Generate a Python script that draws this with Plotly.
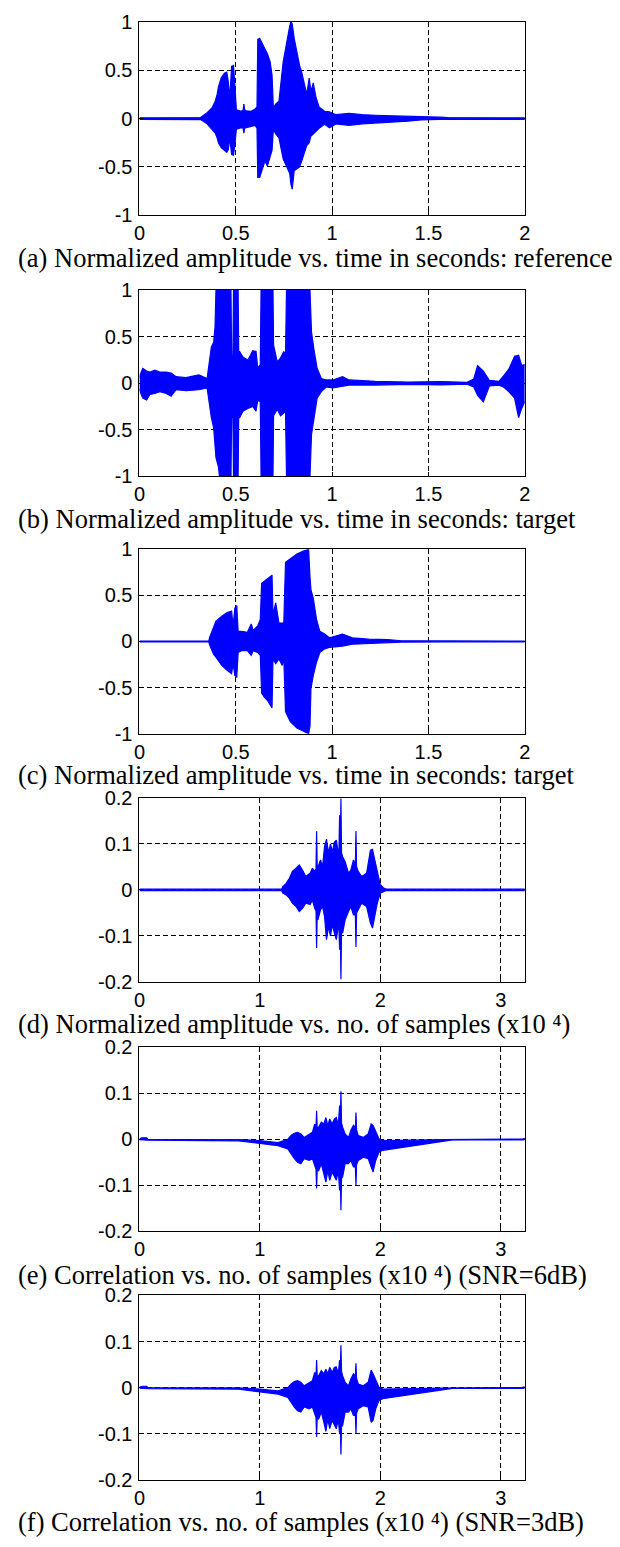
import plotly.graph_objects as go

BLUE = "#0000FF"

# ---------------- data (envelopes) ----------------
# (a) reference, time in s
a_t = [0, 0.317, 0.351, 0.376, 0.393, 0.403, 0.410, 0.424, 0.441, 0.453, 0.461, 0.469, 0.478, 0.488,
       0.495, 0.503, 0.529, 0.538, 0.542, 0.546, 0.554, 0.580, 0.600, 0.610, 0.614, 0.624, 0.639, 0.651,
       0.664, 0.678, 0.688, 0.695, 0.707, 0.724, 0.736, 0.746, 0.758, 0.769, 0.780, 0.786, 0.793, 0.803,
       0.817, 0.831, 0.842, 0.854, 0.868, 0.881, 0.890, 0.902, 0.915, 0.932, 0.961, 0.986, 1.020, 1.088,
       1.156, 1.224, 1.308, 1.393, 1.461, 1.563, 1.600, 2.0]
a_up = [0.008, 0.010, 0.060, 0.110, 0.180, 0.250, 0.330, 0.420, 0.470, 0.480, 0.380, 0.210, 0.540, 0.550,
        0.350, 0.090, 0.075, 0.090, 0.150, 0.090, 0.080, 0.075, 0.100, 0.120, 0.820, 0.830, 0.770, 0.720,
        0.670, 0.590, 0.450, 0.110, 0.150, 0.180, 0.420, 0.590, 0.720, 0.860, 0.960, 1.000, 0.980, 0.830,
        0.690, 0.550, 0.480, 0.370, 0.250, 0.420, 0.280, 0.370, 0.230, 0.120, 0.075, 0.070, 0.040, 0.055,
        0.040, 0.034, 0.027, 0.024, 0.020, 0.014, 0.010, 0.008]
a_lo = [-0.008, -0.010, -0.055, -0.110, -0.150, -0.200, -0.250, -0.300, -0.330, -0.350, -0.320, -0.200, -0.370, -0.380,
        -0.270, -0.110, -0.095, -0.100, -0.150, -0.100, -0.095, -0.080, -0.070, -0.100, -0.610, -0.610, -0.500, -0.440,
        -0.490, -0.400, -0.330, -0.110, -0.160, -0.200, -0.330, -0.420, -0.470, -0.520, -0.570, -0.680, -0.730, -0.540,
        -0.520, -0.500, -0.440, -0.370, -0.280, -0.250, -0.180, -0.160, -0.130, -0.100, -0.060, -0.095, -0.055, -0.070,
        -0.055, -0.048, -0.034, -0.027, -0.014, -0.010, -0.007, -0.008]

# (b) target, time in s
b_t = [0, 0.003, 0.017, 0.037, 0.054, 0.080, 0.105, 0.139, 0.164, 0.190, 0.241, 0.308, 0.351, 0.364,
       0.373, 0.385, 0.392, 0.397, 0.410, 0.415, 0.475, 0.478, 0.485, 0.488, 0.512, 0.515, 0.520, 0.537,
       0.563, 0.588, 0.605, 0.614, 0.627, 0.631, 0.693, 0.696, 0.715, 0.732, 0.749, 0.758, 0.763, 0.885,
       0.893, 0.905, 0.922, 0.944, 0.969, 1.003, 1.054, 1.088, 1.224, 1.393, 1.563, 1.700, 1.735, 1.755,
       1.785, 1.816, 1.866, 1.890, 1.917, 1.947, 1.968, 1.984, 2.0]
b_up = [0.06, 0.09, 0.16, 0.13, 0.12, 0.14, 0.12, 0.12, 0.11, 0.07, 0.06, 0.09, 0.05, 0.27,
        0.39, 0.44, 0.60, 1.00, 1.00, 1.00, 1.00, 0.30, 0.30, 1.00, 1.00, 0.34, 0.34, 0.28,
        0.25, 0.35, 0.34, 0.16, 0.20, 1.00, 1.00, 0.41, 0.23, 0.27, 0.34, 0.30, 1.00, 1.00,
        0.55, 0.37, 0.16, 0.05, 0.035, 0.035, 0.07, 0.035, 0.02, 0.012, 0.018, 0.010, 0.045, 0.19,
        0.13, 0.03, 0.02, 0.08, 0.15, 0.29, 0.30, 0.19, 0.20]
b_lo = [-0.06, -0.09, -0.16, -0.18, -0.12, -0.11, -0.09, -0.11, -0.14, -0.07, -0.08, -0.07, -0.05, -0.23,
        -0.37, -0.48, -0.70, -0.80, -0.90, -1.00, -1.00, -0.37, -0.37, -1.00, -1.00, -0.37, -0.37, -0.30,
        -0.27, -0.25, -0.30, -0.18, -0.20, -1.00, -1.00, -0.35, -0.28, -0.35, -0.32, -0.30, -1.00, -1.00,
        -0.55, -0.37, -0.16, -0.09, -0.04, -0.05, -0.035, -0.02, -0.02, -0.012, -0.018, -0.010, -0.04, -0.13,
        -0.20, -0.03, -0.02, -0.04, -0.09, -0.16, -0.37, -0.27, -0.20]

# (c) target (processed), time in s
c_t = [0, 0.360, 0.363, 0.373, 0.385, 0.397, 0.403, 0.427, 0.453, 0.478, 0.486, 0.495, 0.505, 0.512,
       0.530, 0.560, 0.580, 0.590, 0.614, 0.627, 0.634, 0.647, 0.668, 0.688, 0.693, 0.707, 0.724, 0.741,
       0.749, 0.758, 0.783, 0.817, 0.851, 0.878, 0.885, 0.890, 0.902, 0.919, 0.936, 0.961, 0.986, 1.054,
       1.105, 1.190, 1.290, 1.360, 1.600, 2.0]
c_up = [0.004, 0.004, 0.04, 0.10, 0.17, 0.22, 0.23, 0.275, 0.31, 0.33, 0.17, 0.36, 0.39, 0.11,
        0.11, 0.10, 0.19, 0.12, 0.17, 0.24, 0.63, 0.65, 0.69, 0.72, 0.29, 0.42, 0.20, 0.20,
        0.20, 0.86, 0.90, 0.95, 0.98, 1.00, 0.70, 0.56, 0.47, 0.24, 0.11, 0.08, 0.04, 0.08,
        0.04, 0.025, 0.02, 0.008, 0.006, 0.004]
c_lo = [-0.004, -0.004, -0.03, -0.08, -0.14, -0.17, -0.19, -0.26, -0.31, -0.35, -0.24, -0.37, -0.39, -0.12,
        -0.10, -0.10, -0.15, -0.10, -0.12, -0.15, -0.56, -0.60, -0.65, -0.72, -0.19, -0.24, -0.19, -0.26,
        -0.17, -0.76, -0.87, -0.94, -0.975, -1.00, -0.92, -0.51, -0.37, -0.225, -0.12, -0.08, -0.065, -0.05,
        -0.03, -0.02, -0.015, -0.006, -0.004, -0.004]

# (d) normalized amplitude vs samples (x10^4)
d_s = [0, 1.180, 1.190, 1.218, 1.245, 1.270, 1.300, 1.327, 1.354, 1.381, 1.417, 1.436, 1.455, 1.466,
       1.471, 1.476, 1.482, 1.504, 1.520, 1.537, 1.553, 1.570, 1.586, 1.602, 1.619, 1.635, 1.651, 1.657,
       1.662, 1.668, 1.673, 1.678, 1.687, 1.708, 1.736, 1.755, 1.777, 1.793, 1.798, 1.803, 1.817, 1.845,
       1.886, 1.918, 1.935, 1.954, 1.975, 2.000, 2.027, 2.050, 3.2]
d_up = [0.0015, 0.0015, 0.007, 0.014, 0.025, 0.040, 0.047, 0.054, 0.043, 0.029, 0.036, 0.047, 0.040, 0.045,
        0.127, 0.045, 0.050, 0.065, 0.050, 0.094, 0.110, 0.080, 0.100, 0.083, 0.104, 0.108, 0.080, 0.090,
        0.162, 0.090, 0.198, 0.080, 0.072, 0.061, 0.036, 0.043, 0.065, 0.055, 0.128, 0.050, 0.040, 0.029,
        0.036, 0.086, 0.088, 0.065, 0.036, 0.011, 0.004, 0.0015, 0.0015]
d_lo = [-0.0015, -0.0015, -0.007, -0.011, -0.018, -0.029, -0.036, -0.047, -0.040, -0.029, -0.032, -0.022, -0.040, -0.045,
        -0.126, -0.050, -0.065, -0.043, -0.036, -0.058, -0.108, -0.080, -0.100, -0.076, -0.094, -0.108, -0.079, -0.085,
        -0.130, -0.095, -0.194, -0.090, -0.094, -0.065, -0.047, -0.036, -0.054, -0.055, -0.124, -0.050, -0.043, -0.029,
        -0.036, -0.072, -0.083, -0.058, -0.029, -0.007, -0.004, -0.0015, -0.0015]

# (e) correlation vs samples (x10^4), SNR = 6 dB
e_s = [0, 0.020, 0.060, 0.070, 0.823, 1.000, 1.150, 1.232, 1.259, 1.286, 1.313, 1.340, 1.368, 1.409,
       1.436, 1.455, 1.466, 1.471, 1.476, 1.488, 1.510, 1.531, 1.548, 1.564, 1.580, 1.600, 1.619, 1.635,
       1.651, 1.662, 1.668, 1.673, 1.678, 1.687, 1.708, 1.736, 1.755, 1.777, 1.793, 1.798, 1.803, 1.817,
       1.858, 1.899, 1.924, 1.940, 1.962, 1.989, 2.020, 2.100, 2.185, 2.294, 2.403, 2.512, 2.567, 2.600,
       3.180, 3.2]
e_up = [0.001, 0.003, 0.003, 0.000, -0.0005, -0.003, -0.007, 0.000, 0.008, 0.013, 0.015, 0.0115, 0.004, 0.0115,
        0.015, 0.033, 0.025, 0.062, 0.025, 0.026, 0.037, 0.033, 0.047, 0.030, 0.044, 0.033, 0.044, 0.047,
        0.030, 0.073, 0.040, 0.104, 0.035, 0.026, 0.0115, 0.004, 0.019, 0.030, 0.025, 0.058, 0.020, 0.008,
        0.004, 0.0115, 0.033, 0.030, 0.015, 0.001, -0.003, -0.003, -0.0014, -0.003, -0.0014, -0.0007, -0.0007, 0.0005,
        0.0005, 0.002]
e_lo = [-0.001, -0.001, -0.001, -0.002, -0.0035, -0.0086, -0.014, -0.021, -0.032, -0.042, -0.050, -0.053, -0.042, -0.046,
        -0.042, -0.060, -0.065, -0.107, -0.065, -0.068, -0.053, -0.075, -0.093, -0.068, -0.089, -0.071, -0.082, -0.089,
        -0.068, -0.111, -0.085, -0.154, -0.085, -0.082, -0.053, -0.053, -0.046, -0.060, -0.060, -0.100, -0.055, -0.046,
        -0.039, -0.042, -0.060, -0.071, -0.046, -0.028, -0.024, -0.021, -0.017, -0.014, -0.010, -0.006, -0.003, -0.0015,
        -0.0015, -0.001]

# (f) correlation vs samples (x10^4), SNR = 3 dB
f_s = e_s
f_up = [0.001, 0.003, 0.003, 0.000, -0.0005, -0.003, -0.007, 0.000, 0.008, 0.013, 0.015, 0.0115, 0.004, 0.0115,
        0.015, 0.033, 0.025, 0.060, 0.025, 0.026, 0.037, 0.030, 0.040, 0.030, 0.044, 0.033, 0.044, 0.045,
        0.030, 0.060, 0.040, 0.092, 0.035, 0.026, 0.0115, 0.004, 0.019, 0.030, 0.025, 0.053, 0.020, 0.008,
        0.004, 0.0115, 0.038, 0.030, 0.015, 0.001, -0.003, -0.003, -0.0014, -0.003, -0.0014, -0.0007, -0.0007, 0.0005,
        0.0005, 0.002]
f_lo = [-0.001, -0.001, -0.001, -0.002, -0.0035, -0.0086, -0.014, -0.021, -0.032, -0.042, -0.050, -0.053, -0.042, -0.046,
        -0.042, -0.060, -0.065, -0.107, -0.065, -0.068, -0.053, -0.075, -0.095, -0.068, -0.089, -0.071, -0.082, -0.089,
        -0.068, -0.100, -0.085, -0.145, -0.085, -0.082, -0.053, -0.053, -0.046, -0.060, -0.060, -0.100, -0.055, -0.046,
        -0.039, -0.042, -0.075, -0.071, -0.046, -0.028, -0.024, -0.021, -0.017, -0.014, -0.010, -0.006, -0.003, -0.0015,
        -0.0015, -0.001]

time_ticks = [0, 0.5, 1, 1.5, 2]
time_ticktext = ["0", "0.5", "1", "1.5", "2"]
samp_ticks = [0, 1, 2, 3]
samp_ticktext = ["0", "1", "2", "3"]
amp_ticks = [-1, -0.5, 0, 0.5, 1]
amp_ticktext = ["-1", "-0.5", "0", "0.5", "1"]
small_ticks = [-0.2, -0.1, 0, 0.1, 0.2]
small_ticktext = ["-0.2", "-0.1", "0", "0.1", "0.2"]

captions = [
    "(a) Normalized amplitude vs. time in seconds: reference",
    "(b) Normalized amplitude vs. time in seconds: target",
    "(c) Normalized amplitude vs. time in seconds: target",
    "(d) Normalized amplitude vs. no. of samples (x10 \u2074)",
    "(e) Correlation vs. no. of samples (x10 \u2074) (SNR=6dB)",
    "(f) Correlation vs. no. of samples (x10 \u2074) (SNR=3dB)",
]

panels = [
    (a_t, a_up, a_lo, "time"),
    (b_t, b_up, b_lo, "time"),
    (c_t, c_up, c_lo, "time"),
    (d_s, d_up, d_lo, "samp"),
    (e_s, e_up, e_lo, "samp"),
    (f_s, f_up, f_lo, "samp"),
]

# ---------------- layout geometry (page pixels) ----------------
PAGE_W, PAGE_H = 620, 1547
OFF = 8                          # default <body> margin of the written page
W, H = PAGE_W - OFF, PAGE_H - OFF
X_LEFT, X_RIGHT = 136, 529
FRAMES = [(11, 207), (283, 472), (546, 733), (798, 985), (1051, 1238), (1303, 1490)]
CAPTION_Y = [250, 515, 775, 1028, 1282, 1533]
CAPTION_X = 10


def px_x(p):
    return (p - OFF) / W


def px_y(p):
    return 1 - (p - OFF) / H


fig = go.Figure()
layout = dict(
    width=W, height=H, margin=dict(l=0, r=0, t=0, b=0), autosize=False,
    paper_bgcolor="white", plot_bgcolor="white", showlegend=False,
)
annotations = []

for i, (xs, up, lo, kind) in enumerate(panels):
    n = "" if i == 0 else str(i + 1)
    xa, ya = "x" + n, "y" + n
    fig.add_trace(go.Scatter(x=xs, y=up, mode="lines", line=dict(color=BLUE, width=1.2),
                             xaxis=xa, yaxis=ya, hoverinfo="skip"))
    fig.add_trace(go.Scatter(x=xs, y=lo, mode="lines", line=dict(color=BLUE, width=1.2),
                             fill="tonexty", fillcolor=BLUE,
                             xaxis=xa, yaxis=ya, hoverinfo="skip"))
    top, bot = FRAMES[i]
    common = dict(showline=True, linecolor="black", linewidth=1, mirror=True,
                  showgrid=True, gridcolor="black", gridwidth=1, griddash="5px,3px",
                  zeroline=False, ticks="inside", ticklen=4, tickcolor="black",
                  tickfont=dict(family="Liberation Sans, Arial, sans-serif", size=20, color="black"),
                  fixedrange=True)
    if kind == "time":
        xr, xt, xtt = [0, 2], time_ticks, time_ticktext
        yr, yt, ytt = [-1, 1], amp_ticks, amp_ticktext
    else:
        xr, xt, xtt = [0, 3.2], samp_ticks, samp_ticktext
        yr, yt, ytt = [-0.2, 0.2], small_ticks, small_ticktext
    layout["xaxis" + n] = dict(common, range=xr, tickmode="array", tickvals=xt, ticktext=xtt,
                                domain=[px_x(X_LEFT), px_x(X_RIGHT)], anchor=ya, ticklabelstandoff=0)
    layout["yaxis" + n] = dict(common, range=yr, tickmode="array", tickvals=yt, ticktext=ytt,
                                domain=[px_y(bot), px_y(top)], anchor=xa, ticklabelstandoff=2)
    annotations.append(dict(text=captions[i], xref="paper", yref="paper",
                            x=px_x(CAPTION_X), y=px_y(CAPTION_Y[i]),
                            xanchor="left", yanchor="middle", showarrow=False,
                            font=dict(family="Liberation Serif, Times New Roman, serif", size=26.5, color="black")))

layout["annotations"] = annotations
fig.update_layout(**layout)
fig.write_html("out.html")
